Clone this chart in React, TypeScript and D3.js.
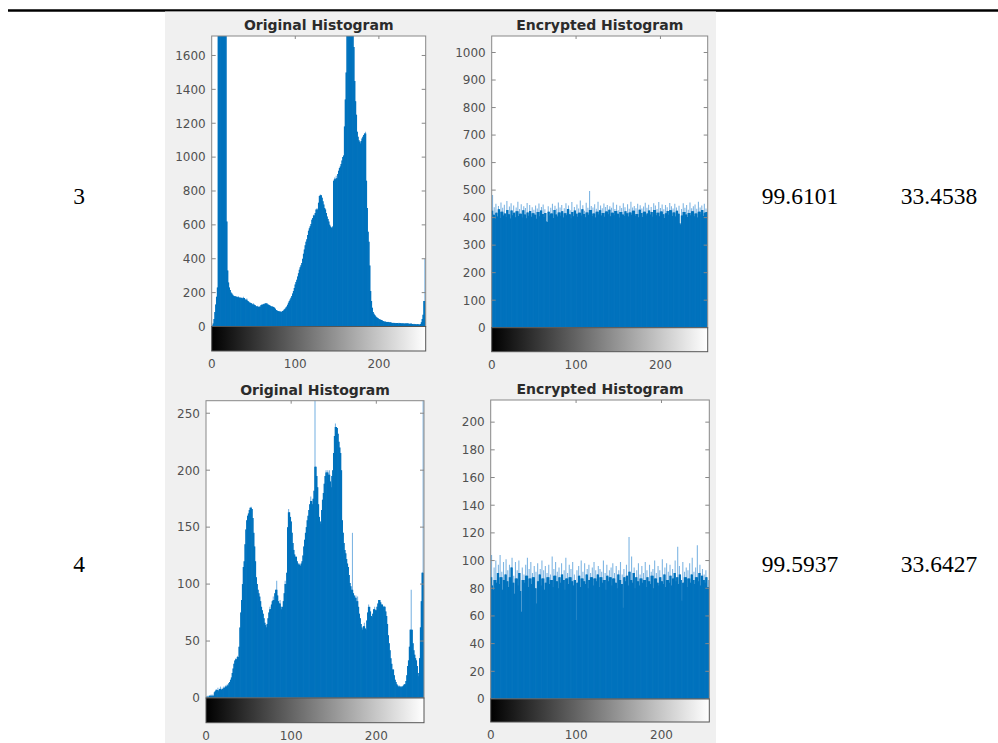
import * as d3 from "d3";

// histogram counts, one value per grey level 0..255
const origTop = [
  2, 6, 18, 45, 85, 130, 175, 230, 1900, 2400,
  2600, 2800, 2500, 2300, 2100, 1950, 1850, 1760, 620, 330,
  260, 230, 215, 200, 195, 188, 182, 178, 180, 175,
  176, 172, 178, 170, 174, 168, 172, 165, 176, 168,
  160, 158, 165, 150, 148, 142, 140, 138, 135, 130,
  137, 128, 125, 120, 118, 122, 115, 118, 117, 125,
  130, 128, 135, 132, 138, 136, 137, 130, 128, 125,
  122, 118, 120, 117, 115, 110, 105, 98, 95, 92,
  90, 88, 87, 90, 86, 92, 95, 100, 105, 112,
  118, 128, 140, 150, 160, 170, 180, 195, 210, 228,
  248, 262, 276, 295, 315, 335, 350, 362, 375, 400,
  430, 455, 480, 500, 515, 540, 565, 580, 592, 605,
  630, 640, 660, 655, 670, 690, 700, 690, 730, 770,
  780, 775, 760, 740, 720, 700, 690, 670, 650, 635,
  620, 600, 590, 585, 580, 590, 860, 880, 870, 890,
  875, 900, 920, 935, 945, 960, 980, 1000, 1010, 1180,
  1340, 1500, 1750, 1900, 2000, 1950, 1850, 1800, 1760, 1720,
  1650, 1450, 1330, 1250, 1150, 1120, 1100, 1090, 1080, 1095,
  1110, 1120, 1130, 1140, 1150, 860, 700, 560, 500, 360,
  210, 150, 110, 85, 75, 68, 60, 55, 52, 48,
  45, 42, 40, 38, 35, 33, 30, 28, 30, 27,
  26, 28, 25, 24, 26, 22, 21, 23, 20, 22,
  19, 21, 20, 18, 22, 19, 20, 17, 21, 18,
  20, 16, 19, 17, 18, 20, 15, 18, 16, 17,
  15, 14, 16, 13, 14, 12, 13, 14, 11, 12,
  15, 25, 45, 70, 150, 400,
];

const encTop = [
  425, 482, 410, 438, 395, 450, 418, 404, 442, 430,
  399, 455, 421, 436, 408, 447, 415, 402, 460, 428,
  412, 440, 397, 452, 426, 409, 444, 418, 401, 437,
  423, 458, 406, 431, 414, 449, 400, 427, 441, 411,
  435, 398, 453, 419, 407, 446, 424, 403, 438, 416,
  429, 410, 444, 396, 433, 420, 451, 405, 426, 439,
  413, 448, 402, 430, 417, 386, 384, 441, 421, 408,
  436, 415, 450, 399, 428, 443, 411, 432, 404, 455,
  419, 437, 407, 446, 423, 400, 434, 416, 452, 409,
  431, 444, 412, 427, 398, 457, 420, 405, 439, 426,
  414, 448, 403, 433, 418, 462, 408, 430, 445, 413,
  425, 401, 454, 419, 436, 410, 497, 428, 442, 406,
  437, 415, 449, 400, 432, 421, 458, 411, 427, 444,
  408, 434, 417, 451, 403, 439, 422, 446, 412, 429,
  441, 405, 436, 418, 455, 409, 431, 424, 447, 414,
  427, 400, 443, 420, 435, 411, 452, 406, 438, 423,
  416, 449, 404, 432, 419, 458, 410, 437, 425, 442,
  407, 434, 413, 450, 401, 429, 445, 417, 433, 402,
  440, 421, 454, 408, 436, 415, 447, 426, 411, 439,
  420, 403, 452, 428, 444, 409, 431, 418, 457, 405,
  435, 422, 448, 412, 430, 399, 446, 416, 438, 424,
  410, 453, 427, 441, 406, 433, 419, 450, 404, 437,
  425, 414, 443, 380, 375, 431, 408, 452, 420, 436,
  411, 446, 402, 429, 417, 455, 409, 434, 423, 441,
  405, 448, 415, 432, 400, 458, 421, 437, 412, 444,
  428, 406, 450, 418, 433, 420,
];

const origBottom = [
  1, 1, 2, 1, 2, 2, 3, 2, 3, 2,
  5, 6, 8, 7, 9, 6, 8, 10, 7, 9,
  8, 10, 9, 11, 10, 12, 11, 13, 14, 16,
  18, 22, 26, 30, 33, 35, 34, 37, 36, 45,
  62, 75, 86, 100, 115, 120, 135, 148, 156, 160,
  162, 165, 167, 168, 166, 158, 145, 133, 120, 106,
  100, 95, 92, 89, 85, 80, 77, 74, 70, 66,
  64, 62, 65, 70, 75, 80, 78, 82, 85, 89,
  86, 92, 95, 103, 90, 85, 83, 86, 80, 78,
  80, 85, 92, 103, 100, 110, 150, 166, 163, 159,
  155, 145, 136, 130, 126, 124, 124, 120, 118, 117,
  118, 116, 118, 120, 125, 133, 139, 145, 150, 156,
  160, 165, 170, 177, 173, 170, 175, 182, 290, 203,
  195, 185, 170, 159, 155, 153, 165, 174, 180, 188,
  195, 200, 198, 200, 196, 200, 190, 185, 195, 200,
  215, 230, 241, 238, 237, 232, 225, 220, 215, 200,
  156, 145, 136, 130, 127, 122, 118, 115, 108, 101,
  98, 95, 145, 92, 90, 88, 90, 85, 89, 80,
  74, 70, 65, 62, 60, 63, 66, 61, 60, 68,
  75, 82, 80, 76, 72, 71, 74, 78, 80, 77,
  77, 80, 83, 86, 86, 84, 82, 82, 80, 81,
  80, 76, 72, 65, 55, 48, 42, 35, 30, 25,
  25, 20, 16, 14, 12, 11, 10, 11, 10, 9,
  10, 10, 11, 12, 12, 15, 20, 28, 33, 45,
  60, 95, 60, 48, 42, 38, 35, 33, 28, 22,
  19, 35, 62, 85, 110, 300,
];

const encBottom = [
  88, 104, 82, 79, 95, 86, 100, 84, 91, 97,
  83, 104, 88, 92, 79, 99, 86, 90, 101, 85,
  93, 81, 97, 88, 95, 102, 84, 89, 76, 99,
  87, 93, 82, 100, 91, 78, 63, 95, 86, 90,
  84, 97, 89, 102, 81, 94, 87, 99, 83, 91,
  88, 96, 80, 92, 69, 98, 85, 90, 94, 82,
  100, 87, 93, 79, 96, 84, 91, 88, 97, 83,
  90, 86, 103, 81, 94, 89, 99, 85, 92, 80,
  95, 88, 84, 98, 90, 86, 93, 79, 102, 87,
  91, 83, 97, 88, 94, 85, 99, 82, 90, 86,
  57, 93, 84, 96, 89, 81, 100, 87, 92, 85,
  98, 83, 90, 94, 80, 97, 86, 91, 88, 95,
  82, 99, 87, 93, 85, 90, 96, 81, 94, 88,
  92, 84, 100, 86, 91, 79, 97, 89, 85, 93,
  88, 95, 82, 98, 87, 91, 84, 96, 80, 90,
  93, 86, 99, 83, 90, 66, 94, 88, 85, 97,
  89, 82, 117, 92, 86, 103, 84, 91, 95, 80,
  88, 93, 85, 98, 82, 90, 87, 96, 84, 91,
  86, 99, 81, 93, 88, 85, 97, 83, 92, 89,
  94, 80, 100, 87, 91, 84, 96, 82, 93, 88,
  85, 101, 83, 90, 95, 81, 98, 86, 92, 84,
  97, 89, 82, 94, 87, 91, 100, 85, 88, 110,
  83, 96, 90, 86, 71, 99, 84, 92, 88, 95,
  81, 93, 87, 98, 84, 90, 102, 86, 92, 83,
  95, 88, 111, 85, 91, 97, 82, 89, 94, 86,
  90, 84, 93, 88, 81, 86,
];

const rowLabels = ["3", "4"];
const col1Values = ["99.6101", "99.5937"];
const col2Values = ["33.4538", "33.6427"];
const yLimits = [1715, 1060, 261, 216];
const yTickCounts = [10, 10, 5, 10];
const titles = ["Original Histogram", "Encrypted Histogram", "Original Histogram", "Encrypted Histogram"];
const series = [origTop, encTop, origBottom, encBottom];

// plot boxes in page pixels
const boxes = [
  { left: 211.7, right: 425.7, top: 36, zero: 326.5, cb: 351 },
  { left: 491.7, right: 707.7, top: 36, zero: 327.7, cb: 351.7 },
  { left: 206, right: 424, top: 400.7, zero: 698, cb: 722.7 },
  { left: 490.7, right: 709.3, top: 400, zero: 699, cb: 722 },
];

const BLUE = "#0072BD";
const LIGHT = "#7fb6e3";
const AXIS = "#888";
const LABEL = "#505050";

function Hist({ idx }: { idx: number }) {
  const b = boxes[idx];
  const values = series[idx];
  const x = d3.scaleLinear().domain([0, 256]).range([b.left, b.right]);
  const y = d3.scaleLinear().domain([0, yLimits[idx]]).range([b.zero, b.top]);
  // solid part of each stem: the part shared with its taller neighbour
  const solid = values.map((v, i) =>
    Math.min(v, Math.max(values[i - 1] ?? 0, values[i + 1] ?? 0))
  );
  const clipId = `clip${idx}`;
  const gradId = `grad${idx}`;
  const tk = 4;
  return (
    <g>
      <defs>
        <clipPath id={clipId}>
          <rect x={b.left} y={b.top} width={b.right - b.left} height={b.zero - b.top} />
        </clipPath>
        <linearGradient id={gradId} x1="0" x2="1" y1="0" y2="0">
          <stop offset="0%" stopColor="#000" />
          <stop offset="100%" stopColor="#fff" />
        </linearGradient>
      </defs>
      <rect x={b.left} y={b.top} width={b.right - b.left} height={b.zero - b.top} fill="#fff" />
      <g clipPath={`url(#${clipId})`}>
        {values.map((v, i) => (
          <line key={`l${i}`} x1={x(i)} x2={x(i)} y1={b.zero} y2={y(v)} stroke={LIGHT} strokeWidth={1.1} />
        ))}
        {solid.map((v, i) => (
          <line key={`s${i}`} x1={x(i)} x2={x(i)} y1={b.zero} y2={y(v)} stroke={BLUE} strokeWidth={1.5} />
        ))}
      </g>
      <rect x={b.left} y={b.top} width={b.right - b.left} height={b.zero - b.top} fill="none" stroke={AXIS} strokeWidth={1} />
      {y.ticks(yTickCounts[idx]).map((t) => (
        <g key={t}>
          <line x1={b.left} x2={b.left + tk} y1={y(t)} y2={y(t)} stroke={AXIS} />
          <line x1={b.right} x2={b.right - tk} y1={y(t)} y2={y(t)} stroke={AXIS} />
          <text x={b.left - 6} y={y(t)} dy="0.36em" textAnchor="end" fontSize={12} fill={LABEL} fontFamily="DejaVu Sans">
            {t}
          </text>
        </g>
      ))}
      {x.ticks(3).filter((t) => t > 0).map((t) => (
        <line key={t} x1={x(t)} x2={x(t)} y1={b.top} y2={b.top + 3} stroke={AXIS} />
      ))}
      <rect x={b.left} y={b.zero} width={b.right - b.left} height={b.cb - b.zero} fill={`url(#${gradId})`} stroke="#555" strokeWidth={1} />
      {x.ticks(3).map((t) => (
        <text key={t} x={x(t)} y={b.cb + 17} textAnchor="middle" fontSize={12} fill={LABEL} fontFamily="DejaVu Sans">
          {t}
        </text>
      ))}
      <text x={(b.left + b.right) / 2} y={b.top - 6} textAnchor="middle" fontSize={14} fontWeight="bold" fill="#2b2b2b" fontFamily="DejaVu Sans">
        {titles[idx]}
      </text>
    </g>
  );
}

export default function App() {
  const rowsY = [204, 572];
  return (
    <svg width={998} height={743} style={{ position: "absolute", left: 0, top: 0 }}>
      <rect width={998} height={743} fill="#fff" />
      <line x1={8} x2={998} y1={10.5} y2={10.5} stroke="#000" strokeWidth={2.5} />
      <rect x={165} y={11.5} width={551} height={732} fill="#f0f0f0" />
      {[0, 1, 2, 3].map((i) => (
        <Hist key={i} idx={i} />
      ))}
      {rowLabels.map((r, i) => (
        <g key={r} fontFamily="Liberation Serif" fontSize={23.5} fill="#000" textAnchor="middle">
          <text x={79} y={rowsY[i]}>{r}</text>
          <text x={800} y={rowsY[i]}>{col1Values[i]}</text>
          <text x={939} y={rowsY[i]}>{col2Values[i]}</text>
        </g>
      ))}
    </svg>
  );
}
